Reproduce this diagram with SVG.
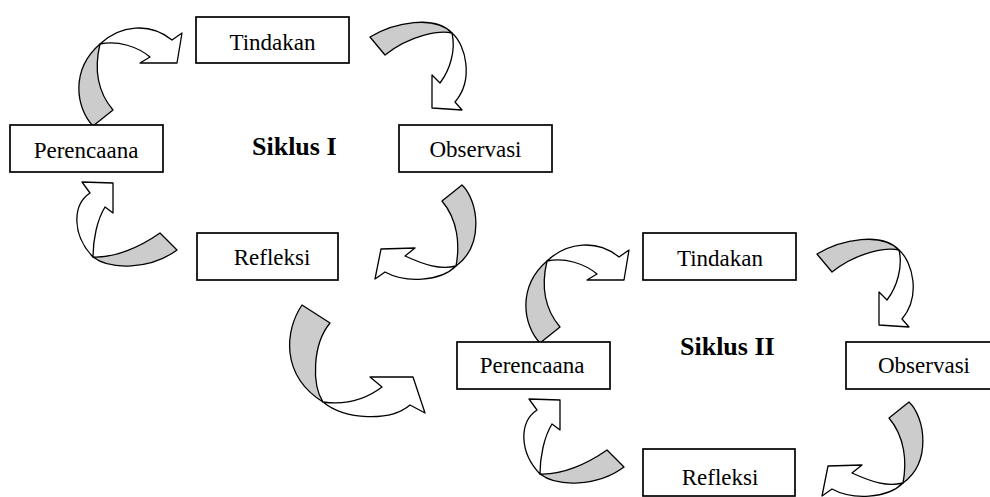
<svg xmlns="http://www.w3.org/2000/svg" width="990" height="497" viewBox="0 0 990 497">
<style>
.box{fill:#fff;stroke:#000;stroke-width:1.7}
.lbl{font-family:"Liberation Serif","Times New Roman",serif;font-size:23px;fill:#000;text-anchor:middle}
.title{font-family:"Liberation Serif","Times New Roman",serif;font-size:26px;font-weight:bold;fill:#000}
.back{fill:#cccccc;stroke:#000;stroke-width:1.3;stroke-linejoin:round}
.front{fill:#fff;stroke:#000;stroke-width:1.3;stroke-linejoin:round}
</style>
<defs>
<g id="arrowA">
<path class="back" d="M93,126 C76,108 70,70 100,44 C95,65 96,90 113,110 Z"/>
<path class="front" d="M100,44 C120,25 150,22 172,40 L182,33 L177,63 L140,63 L150,57 C138,47 118,40 100,44 Z"/>
</g>
<g id="arrowB">
<path class="back" d="M370,37 C395,22 435,15 452,33 C440,30 410,35 385,55 Z"/>
<path class="front" d="M452,33 C466,45 474,80 455,102 L462,110 L432,108 L432,75 L440,83 C450,70 456,50 452,33 Z"/>
</g>
<g id="arrowC">
<path class="back" d="M462,185 C478,200 485,245 456,266 C460,245 458,220 442,201 Z"/>
<path class="front" d="M456,266 C440,282 405,283 385,272 L375,279 L381,249 L415,248 L405,256 C425,265 440,270 456,266 Z"/>
</g>
<g id="arrowD">
<path class="back" d="M160,233 C140,247 115,258 93,257 C110,270 150,270 177,250 Z"/>
<path class="front" d="M93,257 C72,235 72,205 90,193 L82,182 L113,183 L113,213 L105,207 C97,220 93,240 93,257 Z"/>
</g>
</defs>
<g id="connectors">
<use href="#arrowA"/>
<use href="#arrowB"/>
<use href="#arrowC"/>
<use href="#arrowD"/>
<g transform="translate(447,217)">
<use href="#arrowA"/>
<use href="#arrowB"/>
<use href="#arrowC"/>
<use href="#arrowD"/>
</g>
<g id="arrowE">
<path class="back" d="M302,305 C285,330 280,375 323,402 C312,385 312,345 330,323 Z"/>
<path class="front" d="M323,402 C345,420 390,422 410,405 L425,413 L413,377 L370,377 L382,387 C365,400 345,405 323,402 Z"/>
</g>
</g>
<g id="tindakan1"><rect class="box" x="196" y="17" width="153" height="46"/><text class="lbl" x="272.5" y="50">Tindakan</text></g>
<g id="perencaana1"><rect class="box" x="10" y="125" width="153" height="47"/><text class="lbl" x="86" y="158">Perencaana</text></g>
<g id="observasi1"><rect class="box" x="399" y="125" width="153" height="47"/><text class="lbl" x="475.5" y="157">Observasi</text></g>
<g id="refleksi1"><rect class="box" x="197" y="233" width="141" height="47"/><text class="lbl" x="272" y="265">Refleksi</text></g>
<g id="siklus1"><text class="title" x="252" y="155">Siklus I</text></g>
<g id="tindakan2"><rect class="box" x="643" y="233" width="153" height="47"/><text class="lbl" x="720" y="266">Tindakan</text></g>
<g id="perencaana2"><rect class="box" x="457" y="342" width="153" height="47"/><text class="lbl" x="532" y="373">Perencaana</text></g>
<g id="observasi2"><rect class="box" x="846" y="342" width="153" height="47"/><text class="lbl" x="924" y="373">Observasi</text></g>
<g id="refleksi2"><rect class="box" x="643" y="449" width="152" height="47"/><text class="lbl" x="720" y="485">Refleksi</text></g>
<g id="siklus2"><text class="title" x="680" y="355">Siklus II</text></g>
</svg>
